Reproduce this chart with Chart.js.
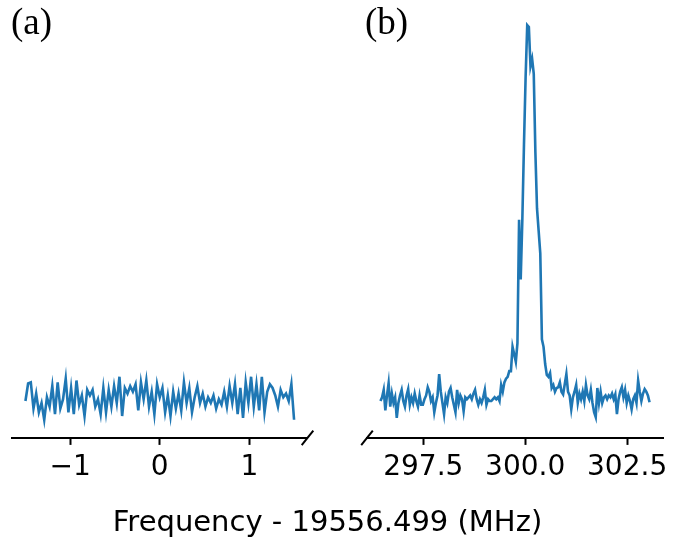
<!DOCTYPE html>
<html>
<head>
<meta charset="utf-8">
<script src="https://cdn.jsdelivr.net/npm/chart.js@4.4.0/dist/chart.umd.min.js"></script>
<style>
  body { margin: 0; background: #fff; }
  #wrap { position: relative; width: 684px; height: 542px; overflow: hidden; }
  canvas { position: absolute; top: 0; }
  .panel { position: absolute; font-family: "Liberation Serif", serif; font-size: 37px; line-height: 1; }
  #xtitle { position: absolute; left: 0; width: 655px; top: 507px; text-align: center;
            font-family: "DejaVu Sans", sans-serif; font-size: 29px; line-height: 1; }
</style>
</head>
<body>
<div id="wrap">
  <canvas id="chartA" width="340" height="542" style="left:0"></canvas>
  <canvas id="chartB" width="344" height="542" style="left:340px"></canvas>
  <div class="panel" style="left:11px; top:3px">(a)</div>
  <div class="panel" style="left:365px; top:3px">(b)</div>
  <div id="xtitle">Frequency - 19556.499 (MHz)</div>
</div>
<script>
// panel (a): offset from -1.5 to 1.5 MHz, step 0.03
const A_START = -1.5, A_STEP = 0.03;
const aIntensity = [
  -0.5, 4.2, 4.5, -2.5, 1.5, -3.5, -1, -5.5, 0.5, -2,
  3.5, -4, 4.5, -2.5, 0, 5.5, -3.5, 3, -4, 5,
  -1.5, 1, -4.5, 2.5, 1, 2.5, -2, 0, -4, 3,
  -3.5, 2.5, -2, 3.5, -1, 6, -4.5, 3, 1.5, 3.5,
  2, 4, -3, 4.5, 0, 5, -2, 2, -4, 4,
  0.5, 3, -3.5, 1, -4.5, 2, -2.5, 1.5, -3, 4.5,
  -1, 3, -3.5, 0.5, 3.5, -1, 1.5, -2, 0.5, -1,
  1, -2.5, 0, -1.5, 2, -2, 3.5, -1, 4, -4,
  3, -5, 4.5, -1, 6, -2, 4, -3, 6, -3.5,
  2, 4, 3, 1, -2, 2.5, 0.5, 1.5, -0.5, 4,
  -5.5
];
const aTicks = [-1, 0, 1];
const aTickLabels = ['\u22121', '0', '1'];

// panel (b): from 296.45 to 303.05 MHz, step 0.04
const B_START = 296.45, B_STEP = 0.04;
const bIntensity = [
  -0.5, 0.5, 2.5, -3, 1, 4.3, -2, 1.5, -1, 0.5,
  -5, -1, 1, 2.5, -0.5, -2, 1, 2.7, -1.5, 0.5,
  -1, 1.5, -0.5, -2, 1, -1.5, -1.5, 0, 1, 3.2,
  2, -0.5, 0.5, -3.5, -1, 1, 6.7, 2, -1, -4,
  0.5, -1, 2, 3, 0.5, -1.5, -3.5, 2.5, -1, 1,
  0, -3.2, 0.5, 0, 0.5, 1, 0, 1.5, 2.5, 0,
  -1.5, 0, -1, 0.5, 2.5, -1.5, 0, -0.5, -0.5, 0,
  0.5, 0, 0.5, -0.5, 3.8, 2, 4.5, 5.5, 6, 7.5,
  7.5, 14, 12, 10, 15, 48, 32, 48, 68, 86,
  100, 99.5, 89, 91, 87, 66, 51, 45, 39, 16,
  14, 9.4, 6.5, 6, 7, 3, 3.8, 2, 3, 3.2,
  4.5, 2, 1.3, 4, 6.7, 2, 1, -2.7, 0.5, 2,
  3.8, -1, 1.5, 0, 2, -0.5, 3.8, 1, 0, 2.5,
  -1, -3.5, -4.8, 3, -1, 2, -1, 0.5, 1, 0,
  1, 0.5, 1.5, 0, 1.3, -4, 0, 2, 3.2, 0.5,
  2.5, -1, 1, -0.5, -2.7, 0, 1, -1, 5, 2,
  -0.5, 1.5, 2.7, 2, 1, -0.8
];
const bTicks = [297.5, 300, 302.5];
const bTickLabels = ['297.5', '300.0', '302.5'];

const Y_MIN = -10.35, Y_MAX = 105.4;
const LINE_COLOR = '#1f77b4';

// diagonal break marks at the cut ends of the axis
function breakMark(side) {
  return {
    id: 'breakMark',
    afterDraw(chart) {
      const ctx = chart.ctx, area = chart.chartArea;
      const x = side === 'right' ? area.right : area.left;
      const y = area.bottom;
      ctx.save();
      ctx.strokeStyle = '#000';
      ctx.lineWidth = 2;
      ctx.beginPath();
      ctx.moveTo(x - 5.8, y + 7.2);
      ctx.lineTo(x + 5.8, y - 7.2);
      ctx.stroke();
      ctx.restore();
    }
  };
}

function makeChart(id, start, step, values, xMin, xMax, ticks, tickLabels, padding, side) {
  const points = values.map((v, i) => ({ x: start + i * step, y: v }));
  return new Chart(document.getElementById(id).getContext('2d'), {
    type: 'line',
    data: {
      datasets: [{
        data: points,
        borderColor: LINE_COLOR,
        borderWidth: 2.6,
        pointRadius: 0,
        tension: 0,
        fill: false
      }]
    },
    options: {
      responsive: false,
      animation: false,
      layout: { padding: padding },
      plugins: { legend: { display: false }, tooltip: { enabled: false } },
      scales: {
        x: {
          type: 'linear',
          min: xMin,
          max: xMax,
          afterBuildTicks: scale => { scale.ticks = ticks.map(v => ({ value: v })); },
          grid: { drawOnChartArea: false, drawTicks: true, tickLength: 7, tickWidth: 2, color: '#000' },
          border: { display: true, color: '#000', width: 2 },
          ticks: {
            autoSkip: false,
            maxRotation: 0,
            padding: 6,
            color: '#000',
            font: { family: 'DejaVu Sans', size: 28 },
            callback: (v, i) => tickLabels[i]
          }
        },
        y: { display: false, min: Y_MIN, max: Y_MAX }
      }
    },
    plugins: [breakMark(side)]
  });
}

makeChart('chartA', A_START, A_STEP, aIntensity, -1.65, 1.65, aTicks, aTickLabels,
  { left: 12, right: 32.5, top: 5, bottom: 51.5 }, 'right');
makeChart('chartB', B_START, B_STEP, bIntensity, 296.12, 303.38, bTicks, bTickLabels,
  { left: 27, right: 21, top: 5, bottom: 51.5 }, 'left');
</script>
</body>
</html>
